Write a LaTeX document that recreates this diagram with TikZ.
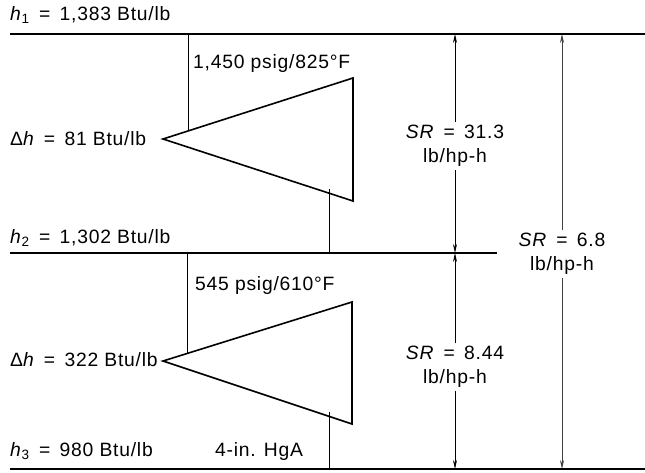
\documentclass[tikz,border=0pt]{standalone}
\usepackage{fontspec}
\setmainfont{Liberation Sans}[LetterSpace=4]
\usetikzlibrary{arrows.meta}
\begin{document}
\begin{tikzpicture}[x=1pt,y=-1pt,
  lbl/.style={font=\fontsize{19.3}{22}\selectfont, inner sep=0pt},
  sr/.style={font=\fontsize{19.3}{24}\selectfont, inner sep=3pt, align=center},
  hline/.style={line width=1.1pt},
  thin/.style={line width=0.9pt},
  turb/.style={line width=1.6pt, line join=miter},
  arr/.style={line width=0.8pt, -{Stealth[length=9pt,width=4pt]}}]
\useasboundingbox (0,0) rectangle (645,472);
% levels
\coordinate (L1a) at (10,34); \coordinate (L1b) at (645,34);
\coordinate (L2a) at (10,253); \coordinate (L2b) at (497,253);
\coordinate (L3a) at (10,469); \coordinate (L3b) at (645,469);
\draw[hline] (L1a) -- (L1b);
\draw[hline] (L2a) -- (L2b);
\draw[hline] (L3a) -- (L3b);
% top turbine
\coordinate (A1) at (163,139);
\coordinate (B1) at (353,78);
\coordinate (C1) at (353,201);
\draw[turb] (B1) -- (A1) -- (C1) -- cycle;
\coordinate (in1) at (188,131);
\coordinate (in1t) at (188,34);
\draw[thin] (in1t) -- (in1);
\coordinate (out1) at (329,189);
\coordinate (out1b) at (329,253);
\draw[thin] (out1) -- (out1b);
% bottom turbine
\coordinate (A2) at (163,361);
\coordinate (B2) at (352,302);
\coordinate (C2) at (352,424);
\draw[turb] (B2) -- (A2) -- (C2) -- cycle;
\coordinate (in2) at (187,354);
\coordinate (in2t) at (187,253);
\draw[thin] (in2t) -- (in2);
\coordinate (out2) at (329,412);
\coordinate (out2b) at (329,469);
\draw[thin] (out2) -- (out2b);
% labels
\node[lbl, anchor=base west] (h1) at (10,20) {\textit{h}\textsubscript{1} \,=\, 1,383 Btu/lb};
\node[lbl, anchor=base west] (p1) at (193,68) {1,450 psig/825°F};
\node[lbl, anchor=base west] (dh1) at (10,145) {Δ\textit{h} \,=\, 81 Btu/lb};
\node[lbl, anchor=base west] (h2) at (10,243) {\textit{h}\textsubscript{2} \,=\, 1,302 Btu/lb};
\node[lbl, anchor=base west] (p2) at (195,290) {545 psig/610°F};
\node[lbl, anchor=base west] (dh2) at (10,366) {Δ\textit{h} \,=\, 322 Btu/lb};
\node[lbl, anchor=base west] (h3) at (10,456) {\textit{h}\textsubscript{3} \,=\, 980 Btu/lb};
\node[lbl, anchor=base west] (hga) at (215,456) {4-in. HgA};
% SR arrows
\node[sr] (sr1) at (455,146) {\textit{SR} \,=\, 31.3\\lb/hp-h};
\node[sr] (sr2) at (455,367) {\textit{SR} \,=\, 8.44\\lb/hp-h};
\node[sr] (sr3) at (562,254) {\textit{SR} \,=\, 6.8\\lb/hp-h};
\coordinate (s1t) at (455,34); \coordinate (s1b) at (455,253);
\coordinate (s2t) at (455,253); \coordinate (s2b) at (455,469);
\coordinate (s3t) at (562,34); \coordinate (s3b) at (562,469);
\draw[arr] (sr1.north) -- (s1t);
\draw[arr] (sr1.south) -- (s1b);
\draw[arr] (sr2.north) -- (s2t);
\draw[arr] (sr2.south) -- (s2b);
\draw[arr, black!75] (sr3.north) -- (s3t);
\draw[arr, black!75] (sr3.south) -- (s3b);
\end{tikzpicture}
\end{document}
